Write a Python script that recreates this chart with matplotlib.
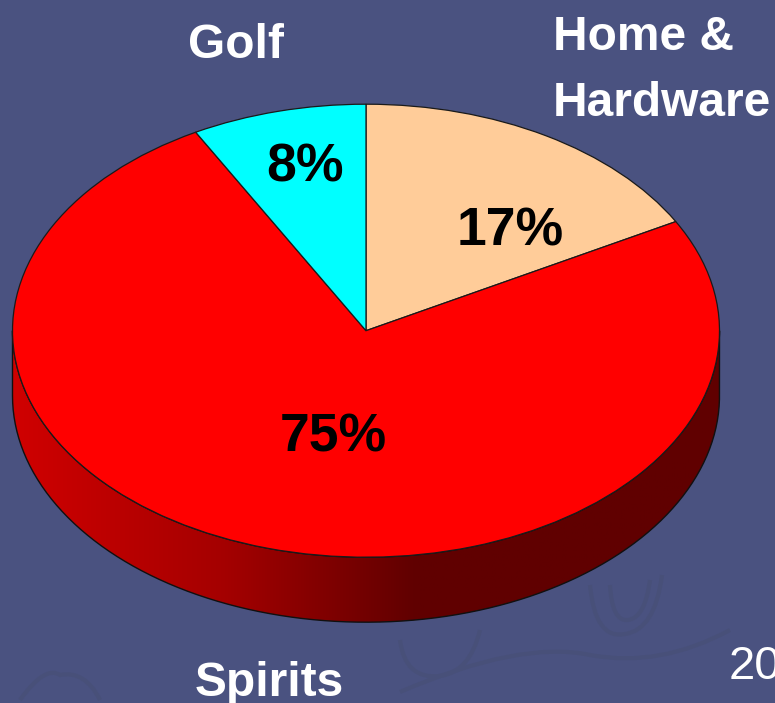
import numpy as np
import matplotlib
matplotlib.use("Agg")
from matplotlib import pyplot as plt
from matplotlib.colors import LinearSegmentedColormap
from matplotlib.patches import PathPatch
from matplotlib.path import Path

plt.rcParams['font.family'] = ['Liberation Sans', 'DejaVu Sans']

home_label = ['Home &', 'Hardware']
spirits_label = 'Spirits'
golf_label = 'Golf'
shares = [17, 75, 8]
share_labels = ['17%', '75%', '8%']
slice_colors = ['#FFCC99', '#FF0000', '#00FFFF']
BG = '#4A5280'
W, H = 775, 703

# pie ellipse in pixels
CX, CY, RX, RY = 366, 330.7, 353.5, 226.5
DEPTH = 65 / RY

fig = plt.figure(figsize=(W / 100, H / 100), dpi=100, facecolor=BG)

# faint swirls of the slide background, under everything else
bg = fig.add_axes([0, 0, 1, 1], facecolor=BG)
bg.set_xlim(0, W)
bg.set_ylim(H, 0)
bg.axis('off')
C3 = Path.CURVE3
swirls = [
    [(590, 585), (595, 640), (625, 634), (655, 630), (662, 575)],
    [(610, 585), (612, 622), (628, 620), (645, 618), (650, 580)],
    [(400, 640), (405, 680), (440, 676), (470, 672), (480, 630)],
    [(400, 692), (520, 640), (590, 655), (660, 668), (730, 630)],
    [(20, 700), (45, 665), (60, 675), (85, 670), (100, 700)],
]
for pts in swirls:
    bg.add_patch(PathPatch(Path(pts, [Path.MOVETO, C3, C3, C3, C3]), facecolor='none',
                           edgecolor='#485079', linewidth=3))

ax = fig.add_axes([0, 0, 1, 1], facecolor='none')
ax.pie(shares, colors=slice_colors, startangle=90, counterclock=False,
       wedgeprops={'edgecolor': '#1a1a1a', 'linewidth': 0.9, 'zorder': 3})
ax.set_aspect('auto')
ax.axis('off')

# rim of the disc, lower half of the ellipse pushed down
t = np.linspace(np.pi, 2 * np.pi, 200)
top = np.column_stack([np.cos(t), np.sin(t)])
bottom = top[::-1] + [0, -DEPTH]
rim = Path(np.vstack([top, bottom, top[:1]]))
shade = LinearSegmentedColormap.from_list(
    'rim', [(0, '#D00000'), (0.3, '#A40000'), (0.57, '#600000'), (1, '#600000')])
im = ax.imshow(np.linspace(0, 1, 256).reshape(1, -1), cmap=shade, aspect='auto',
               extent=(-1, 1, -1 - DEPTH, 0), zorder=1)
outline = PathPatch(rim, facecolor='none', edgecolor='#101010', linewidth=1.0, zorder=2)
ax.add_patch(outline)
im.set_clip_path(outline)
ax.set_xlim((0 - CX) / RX, (W - CX) / RX)
ax.set_ylim((CY - H) / RY, CY / RY)

# text layer in pixel coordinates
tx = fig.add_axes([0, 0, 1, 1], facecolor='none')
tx.set_xlim(0, W)
tx.set_ylim(H, 0)
tx.axis('off')

label_style = dict(color='white', fontweight='bold', fontsize=34.5, va='center')
tx.text(553, 37, home_label[0], ha='left', **label_style)
tx.text(553, 103, home_label[1], ha='left', **label_style)
tx.text(269, 684, spirits_label, ha='center', **label_style)
tx.text(236, 45, golf_label, ha='center', **label_style)

value_style = dict(color='black', fontweight='bold', fontsize=38.5, ha='center', va='center')
tx.text(510, 231, share_labels[0], **value_style)
tx.text(333, 437, share_labels[1], **value_style)
tx.text(305, 167, share_labels[2], **value_style)

tx.text(729, 667, '20', color='white', fontsize=34, ha='left', va='center')

plt.savefig('out.png', dpi=100, facecolor=BG)
